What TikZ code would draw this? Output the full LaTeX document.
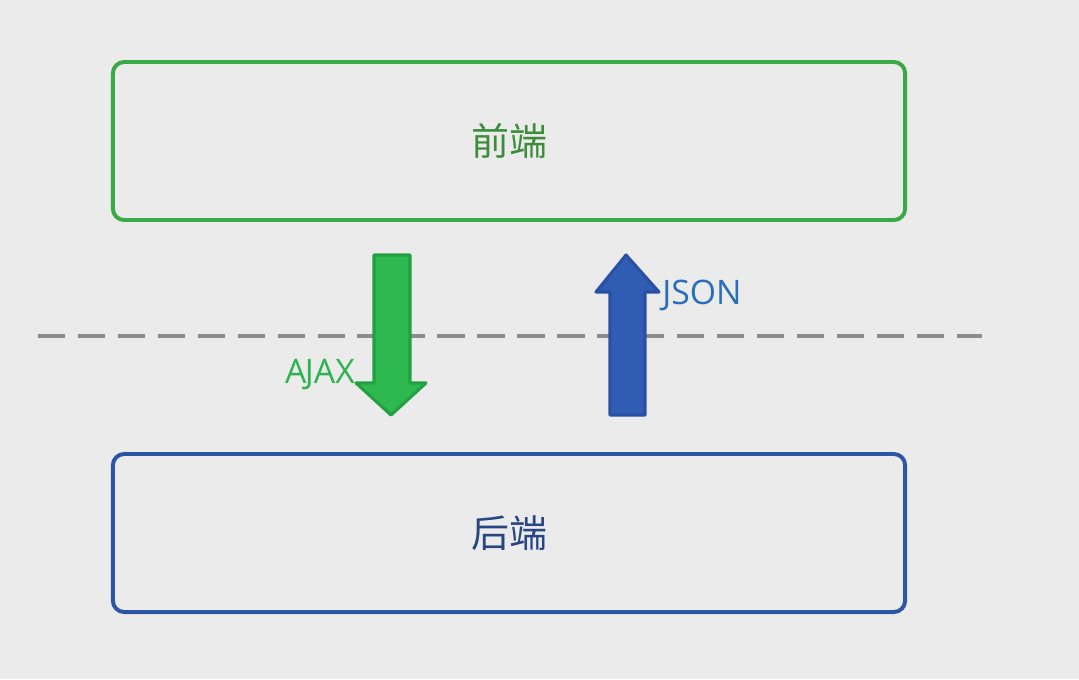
\documentclass[tikz,border=0pt]{standalone}
\usepackage{fontspec}
\setmainfont{Open Sans}
\newfontfamily\cjk{Noto Sans CJK SC}
\usetikzlibrary{positioning}
\definecolor{bggray}{RGB}{235,235,235}
\definecolor{boxgreen}{RGB}{58,170,70}
\definecolor{txtgreen}{RGB}{60,140,60}
\definecolor{boxblue}{RGB}{45,85,165}
\definecolor{txtblue}{RGB}{40,70,130}
\definecolor{arrgreen}{RGB}{45,185,80}
\definecolor{arrgreend}{RGB}{35,160,65}
\definecolor{arrblue}{RGB}{48,92,180}
\definecolor{arrblued}{RGB}{40,80,165}
\definecolor{lblgreen}{RGB}{45,180,80}
\definecolor{lblblue}{RGB}{40,110,185}
\definecolor{dashgray}{RGB}{140,140,140}
\tikzset{
    layer/.style = {rectangle, rounded corners=8pt, line width=2.8pt, minimum width=19.8cm, minimum height=3.95cm, font=\cjk\fontsize{27}{30}\selectfont},
    frontbox/.style = {layer, draw=boxgreen, text=txtgreen},
    backbox/.style = {layer, draw=boxblue, text=txtblue},
    fatarrowg/.style = {fill=arrgreen, draw=arrgreend, line width=2.2pt, line join=round},
    fatarrowb/.style = {fill=arrblue, draw=arrblued, line width=2.2pt, line join=round},
    lbl/.style = {inner sep=0pt, font=\fontsize{24}{28}\selectfont},
    border/.style = {dashgray, line width=2.6pt, dash pattern=on 19.5pt off 8.9pt}
}
\begin{document}
\begin{tikzpicture}[x=0.025cm,y=-0.025cm]
\fill[bggray] (0,0) rectangle (1079,679);
\useasboundingbox (0,0) rectangle (1079,679);
%
\node[frontbox] at (509,141) (front) {前端};
\node[backbox] at (509,533) (back) {后端};
%
\coordinate (dl) at (38,336);
\coordinate (dr) at (982,336);
\draw[border] (dl) -- (dr);
%
\draw[fatarrowg] (374,255) -- (410,255) -- (410,383) -- (426,383) -- (391,415) -- (356,383) -- (374,383) -- cycle;
\draw[fatarrowb] (610,415) -- (645,415) -- (645,292) -- (659,292) -- (626,255) -- (596,292) -- (610,292) -- cycle;
\coordinate (gtip) at (355,375);
\coordinate (bhead) at (662,295);
\node[lbl, text=lblgreen, left=0pt of gtip] (ajax) {A\kern-1.2pt JAX};
\node[lbl, text=lblblue, right=0pt of bhead] (json) {JSON};
\end{tikzpicture}
\end{document}
